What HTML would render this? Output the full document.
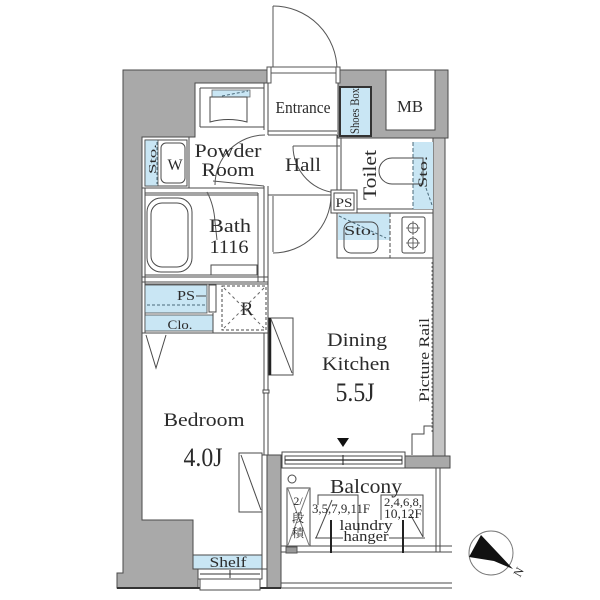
<!DOCTYPE html>
<html><head><meta charset="utf-8">
<style>
html,body{margin:0;padding:0;background:#fff}
svg{display:block}
text{font-family:"Liberation Serif","Noto Serif CJK JP",serif;fill:#2b2b2b}
</style></head>
<body>
<svg xmlns="http://www.w3.org/2000/svg" width="600" height="600" viewBox="0 0 600 600">
<rect width="600" height="600" fill="#fff"/>

<!-- Entrance door swing -->
<g fill="none" stroke="#555" stroke-width="1">
  <line x1="273" y1="6" x2="273" y2="69"/>
  <path d="M273,6 A64,64 0 0 1 337,70"/>
</g>

<!-- Gray structural walls -->
<g fill="#a9a9a9" stroke="#4a4a4a" stroke-width="1">
  <polygon points="123,70 267,70 267,83 195,83 195,137 142,137 142,520 193,520 193,569 198,569 198,588 117,588 117,573 123,573"/>
  <polygon points="338,70 386,70 386,130 435,130 435,70 448,70 448,138 338,138"/>
  <rect x="267" y="455" width="14" height="133"/>
  <rect x="405" y="456" width="45" height="12"/>
</g>
<rect x="433" y="138" width="12" height="318" fill="#c4c4c4" stroke="#4a4a4a"/>
<line x1="432" y1="262" x2="432" y2="432" stroke="#777" stroke-dasharray="2,2"/>
<line x1="117" y1="588" x2="281" y2="588" stroke="#333" stroke-width="2"/>

<!-- Entrance threshold -->
<rect x="270" y="67" width="67" height="6" fill="#fff" stroke="#555"/>
<rect x="267" y="67" width="4" height="16" fill="#fff" stroke="#555"/>
<rect x="336" y="67" width="4" height="16" fill="#fff" stroke="#555"/>

<!-- MB -->
<rect x="386" y="70" width="49" height="60" fill="#fff" stroke="#4a4a4a"/>

<!-- Shoes box -->
<rect x="340" y="87" width="31" height="49" fill="#c9e6f4" stroke="#333" stroke-width="2"/>

<!-- thin interior walls / lines -->
<g fill="none" stroke="#4a4a4a" stroke-width="1">
  <line x1="200" y1="88" x2="200" y2="127"/>
  <line x1="200" y1="88" x2="264" y2="88"/>
  <line x1="200" y1="127" x2="264" y2="127"/>
  <line x1="264" y1="83" x2="264" y2="130"/>
  <line x1="268" y1="83" x2="268" y2="135"/>
  <line x1="264" y1="186" x2="264" y2="282"/>
  <line x1="268" y1="186" x2="268" y2="455"/>
  <line x1="264" y1="333" x2="264" y2="455"/>
  <line x1="268" y1="131" x2="337" y2="131"/>
  <line x1="268" y1="135" x2="337" y2="135"/>
  <line x1="142" y1="188" x2="264" y2="188"/>
  <line x1="145" y1="193" x2="258" y2="193"/>
  <line x1="145" y1="188" x2="145" y2="333"/>
  <rect x="145" y="195" width="113" height="80"/>
  <line x1="258" y1="193" x2="258" y2="282"/>
  <line x1="142" y1="277" x2="268" y2="277"/>
  <line x1="142" y1="282" x2="268" y2="282"/>
  <line x1="268" y1="195" x2="331" y2="195"/>
  <line x1="337" y1="135" x2="337" y2="190"/>
  <line x1="341" y1="138" x2="341" y2="190"/>
  <line x1="357" y1="209" x2="433" y2="209"/>
  <line x1="357" y1="213" x2="433" y2="213"/>
  <line x1="142" y1="333" x2="268" y2="333"/>
  <line x1="145" y1="284" x2="268" y2="284"/>
  <rect x="262" y="455" width="5" height="114" fill="#fff"/>
</g>

<!-- Washbasin -->
<rect x="212" y="90" width="38" height="7" fill="#c9e6f4" stroke="#666" stroke-width="0.8"/>
<line x1="222" y1="96" x2="248" y2="91" stroke="#4a6a7a" stroke-dasharray="3,2"/>
<path d="M210,97 H247 V122 Q228,117 210,122 Z" fill="#fff" stroke="#4a4a4a"/>

<!-- W / Sto -->
<rect x="142" y="137" width="47" height="51" fill="#fff" stroke="#4a4a4a"/>
<rect x="145" y="140" width="42" height="46" fill="#fff" stroke="#4a4a4a"/>
<rect x="145" y="140" width="13" height="46" fill="#c9e6f4" stroke="#4a4a4a" stroke-width="0.8"/>
<line x1="157" y1="142" x2="157" y2="184" stroke="#4a6a7a" stroke-dasharray="3,2"/>
<rect x="161" y="143" width="24" height="40" rx="5" fill="#fff" stroke="#4a4a4a"/>

<!-- Doors -->
<g fill="none" stroke="#555" stroke-width="1">
  <path d="M265,135 A50,50 0 0 0 215,185"/>
  <line x1="213" y1="181" x2="264" y2="186"/>
  <path d="M207,192 Q214,205 215,222 L217,240"/>
  <line x1="293" y1="146" x2="340" y2="146"/>
  <path d="M293,146 A47,47 0 0 0 340,193"/>
  <line x1="273" y1="196" x2="273" y2="252"/>
  <path d="M331,196 A58,58 0 0 1 273,253"/>
</g>

<!-- Bathtub -->
<rect x="147" y="198" width="45" height="74" rx="14" fill="#fff" stroke="#4a4a4a"/>
<rect x="151" y="203" width="37" height="64" rx="11" fill="none" stroke="#4a4a4a"/>
<rect x="211" y="265" width="46" height="10" fill="#fff" stroke="#4a4a4a"/>

<!-- Toilet -->
<rect x="413" y="142" width="20" height="67" fill="#c9e6f4"/>
<line x1="413" y1="142" x2="413" y2="209" stroke="#4a6a7a" stroke-dasharray="4,2"/>
<path d="M423,158 H392 A13,13 0 0 0 392,184 H423 Z" fill="none" stroke="#4a4a4a"/>
<line x1="426" y1="188" x2="432" y2="205" stroke="#4a6a7a" stroke-dasharray="3,2"/>

<!-- PS (hall) -->
<rect x="331" y="190" width="26" height="23" fill="#fff" stroke="#4a4a4a"/>
<rect x="334" y="193" width="20" height="17" fill="#fff" stroke="#4a4a4a"/>

<!-- Kitchen counter -->
<rect x="337" y="213" width="96" height="45" fill="#fff" stroke="#4a4a4a"/>
<rect x="338" y="214" width="52" height="26" fill="#c9e6f4"/>
<line x1="339" y1="216" x2="386" y2="238" stroke="#4a6a7a" stroke-dasharray="3,2"/>
<line x1="390" y1="213" x2="390" y2="258" stroke="#4a4a4a" stroke-dasharray="4,2"/>
<line x1="390" y1="258" x2="433" y2="258" stroke="#4a4a4a" stroke-dasharray="4,2"/>
<rect x="344" y="222" width="34" height="31" rx="7" fill="none" stroke="#4a4a4a"/>
<rect x="402" y="217" width="23" height="36" rx="2" fill="#fff" stroke="#4a4a4a"/>
<g fill="none" stroke="#4a4a4a" stroke-width="0.8">
  <circle cx="413" cy="228" r="5"/><circle cx="413" cy="243" r="5"/>
  <path d="M406,228 H420 M413,221 V235 M406,243 H420 M413,236 V250"/>
</g>

<!-- PS left / Clo -->
<rect x="145" y="285" width="62" height="28" fill="#c9e6f4" stroke="#4a4a4a" stroke-width="0.8"/>
<line x1="147" y1="305" x2="205" y2="305" stroke="#4a6a7a" stroke-dasharray="3,2"/>
<line x1="196" y1="296" x2="206" y2="296" stroke="#4a4a4a"/>
<rect x="209" y="285" width="7" height="27" fill="#fff" stroke="#4a4a4a"/>
<rect x="145" y="315" width="68" height="16" fill="#c9e6f4" stroke="#4a4a4a" stroke-width="0.8"/>
<line x1="213" y1="313" x2="213" y2="333" stroke="#4a4a4a"/>

<!-- R box -->
<rect x="222" y="286" width="44" height="44" fill="#fff" stroke="#4a4a4a" stroke-dasharray="3,2"/>
<path d="M224,288 L264,328 M264,288 L224,328" stroke="#666" stroke-dasharray="3,3" fill="none"/>

<!-- closet door V -->
<path d="M146,335 L156,368 L166,335" fill="none" stroke="#4a4a4a"/>

<!-- DK door box -->
<rect x="269" y="318" width="24" height="57" fill="#fff" stroke="#4a4a4a"/>
<line x1="270" y1="318" x2="270" y2="375" stroke="#222" stroke-width="2.5"/>
<line x1="271" y1="319" x2="292" y2="373" stroke="#4a4a4a"/>
<rect x="263" y="390" width="6" height="3" fill="#fff" stroke="#4a4a4a"/>

<!-- Bedroom wardrobe door -->
<rect x="239" y="453" width="23" height="59" fill="#fff" stroke="#4a4a4a"/>
<line x1="241" y1="455" x2="261" y2="510" stroke="#4a4a4a"/>

<!-- Shelf -->
<rect x="193" y="555" width="69" height="14" fill="#c9e6f4" stroke="#4a4a4a"/>
<rect x="198" y="569" width="64" height="10" fill="#fff" stroke="#4a4a4a"/>
<line x1="200" y1="574" x2="260" y2="574" stroke="#333"/>
<line x1="230" y1="570" x2="230" y2="578" stroke="#333"/>
<rect x="200" y="579" width="60" height="11" fill="#fff" stroke="#4a4a4a"/>

<!-- DK window -->
<rect x="282" y="452" width="123" height="16" fill="#fff" stroke="#4a4a4a"/>
<rect x="285" y="456" width="117" height="8" fill="#fff" stroke="#4a4a4a"/>
<line x1="285" y1="460" x2="402" y2="460" stroke="#222" stroke-width="1.2"/>
<line x1="343" y1="455" x2="343" y2="465" stroke="#222"/>
<polygon points="337,438 349,438 343,447" fill="#111"/>

<!-- Step -->
<path d="M412,455 V434 H424 V426 H433" fill="none" stroke="#4a4a4a"/>

<!-- Balcony -->
<g fill="none" stroke="#4a4a4a" stroke-width="1">
  <line x1="436" y1="468" x2="436" y2="552"/>
  <line x1="440" y1="468" x2="440" y2="552"/>
  <line x1="281" y1="546" x2="452" y2="546"/>
  <line x1="281" y1="552" x2="452" y2="552"/>
  <line x1="281" y1="583" x2="452" y2="583"/>
  <line x1="281" y1="588" x2="452" y2="588"/>
  <circle cx="292" cy="479" r="4"/>
  <rect x="287" y="488" width="23" height="58"/>
  <path d="M288,489 L309,545 M309,489 L288,545" stroke="#777"/>
  <path d="M318,505 V495 H358 V538"/>
  <path d="M316,538 L332,500"/>
  <path d="M381,520 V495 H423 V537"/>
  <path d="M410,514 L423,537"/>
  <line x1="315" y1="538" x2="425" y2="538"/>
</g>
<rect x="286" y="547" width="11" height="6" fill="#999" stroke="#555"/>
<line x1="331" y1="520" x2="331" y2="553" stroke="#222" stroke-width="2"/>
<line x1="403" y1="520" x2="403" y2="553" stroke="#222" stroke-width="2"/>

<!-- Compass -->
<circle cx="491" cy="553" r="22" fill="none" stroke="#777"/>
<polygon points="481,535 513,569 494,561 469,557" fill="#111"/>

<!-- Labels -->
<text x="303" y="113" font-size="17" text-anchor="middle" textLength="55" lengthAdjust="spacingAndGlyphs">Entrance</text>
<text x="410" y="112" font-size="17" text-anchor="middle" textLength="26" lengthAdjust="spacingAndGlyphs">MB</text>
<text transform="translate(359,111) rotate(-90)" font-size="13" text-anchor="middle" textLength="46" lengthAdjust="spacingAndGlyphs">Shoes Box</text>
<text x="228" y="157" font-size="19" text-anchor="middle" textLength="67" lengthAdjust="spacingAndGlyphs">Powder</text>
<text x="228" y="176" font-size="19" text-anchor="middle" textLength="53" lengthAdjust="spacingAndGlyphs">Room</text>
<text x="175" y="170" font-size="16" text-anchor="middle">W</text>
<text transform="translate(156,159) rotate(-90)" font-size="11" text-anchor="middle" textLength="30" lengthAdjust="spacingAndGlyphs">Sto.</text>
<text x="303" y="171" font-size="19" text-anchor="middle" textLength="36" lengthAdjust="spacingAndGlyphs">Hall</text>
<text transform="translate(376,175) rotate(-90)" font-size="19" text-anchor="middle" textLength="50" lengthAdjust="spacingAndGlyphs">Toilet</text>
<text transform="translate(427,172) rotate(-90)" font-size="13" text-anchor="middle" textLength="32" lengthAdjust="spacingAndGlyphs">Sto.</text>
<text x="344" y="207" font-size="13" text-anchor="middle" textLength="17" lengthAdjust="spacingAndGlyphs">PS</text>
<text x="360" y="235" font-size="14" text-anchor="middle" textLength="32" lengthAdjust="spacingAndGlyphs">Sto.</text>
<text x="230" y="232" font-size="19" text-anchor="middle" textLength="42" lengthAdjust="spacingAndGlyphs">Bath</text>
<text x="229" y="253" font-size="19" text-anchor="middle" textLength="39" lengthAdjust="spacingAndGlyphs">1116</text>
<text x="186" y="300" font-size="14" text-anchor="middle" textLength="18" lengthAdjust="spacingAndGlyphs">PS</text>
<text x="247" y="315" font-size="19" text-anchor="middle">R</text>
<text x="180" y="329" font-size="13" text-anchor="middle" textLength="25" lengthAdjust="spacingAndGlyphs">Clo.</text>
<text x="357" y="346" font-size="19" text-anchor="middle" textLength="60" lengthAdjust="spacingAndGlyphs">Dining</text>
<text x="356" y="370" font-size="19" text-anchor="middle" textLength="68" lengthAdjust="spacingAndGlyphs">Kitchen</text>
<text x="355" y="401" font-size="26" text-anchor="middle" textLength="39" lengthAdjust="spacingAndGlyphs">5.5J</text>
<text transform="translate(429,360) rotate(-90)" font-size="15" text-anchor="middle" textLength="84" lengthAdjust="spacingAndGlyphs">Picture Rail</text>
<text x="204" y="426" font-size="19" text-anchor="middle" textLength="81" lengthAdjust="spacingAndGlyphs">Bedroom</text>
<text x="203" y="466" font-size="26" text-anchor="middle" textLength="39" lengthAdjust="spacingAndGlyphs">4.0J</text>
<text x="228" y="567" font-size="15" text-anchor="middle" textLength="37" lengthAdjust="spacingAndGlyphs">Shelf</text>
<text x="366" y="493" font-size="20" text-anchor="middle" textLength="72" lengthAdjust="spacingAndGlyphs">Balcony</text>
<text x="298" y="505" font-size="12" text-anchor="middle">2/</text>
<text x="298" y="522" font-size="12" text-anchor="middle">段</text>
<text x="298" y="537" font-size="12" text-anchor="middle">積</text>
<text x="341" y="513" font-size="13" text-anchor="middle" textLength="58" lengthAdjust="spacingAndGlyphs">3,5,7,9,11F</text>
<text x="403" y="506" font-size="12" text-anchor="middle" textLength="38" lengthAdjust="spacingAndGlyphs">2,4,6,8,</text>
<text x="403" y="518" font-size="13" text-anchor="middle" textLength="38" lengthAdjust="spacingAndGlyphs">10,12F</text>
<text x="366" y="530" font-size="15" text-anchor="middle" textLength="53" lengthAdjust="spacingAndGlyphs">laundry</text>
<rect x="343" y="533" width="46" height="8" fill="#fff"/>
<text x="366" y="541" font-size="15" text-anchor="middle" textLength="45" lengthAdjust="spacingAndGlyphs">hanger</text>
<text transform="translate(522,574) rotate(-60)" font-size="12" text-anchor="middle">N</text>
</svg>
</body></html>
